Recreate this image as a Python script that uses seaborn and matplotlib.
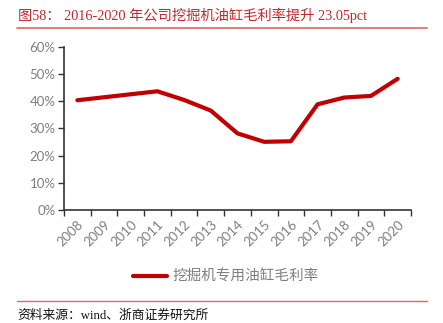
import matplotlib
matplotlib.use("Agg")
import matplotlib.pyplot as plt
import seaborn as sns
import pandas as pd
import numpy as np
from matplotlib.lines import Line2D
from matplotlib.ticker import FixedLocator, PercentFormatter

years = ["2008", "2009", "2010", "2011", "2012", "2013", "2014", "2015",
         "2016", "2017", "2018", "2019", "2020"]
margin = [40.4, 41.5, 42.6, 43.7, 40.5, 36.6, 28.2, 25.1, 25.3, 38.9, 41.4, 42.0, 48.3]
series_name = "挖掘机专用油缸毛利率"
title = "图58： 2016-2020 年公司挖掘机油缸毛利率提升 23.05pct"
source = "资料来源：wind、浙商证券研究所"
yticks = [0, 10, 20, 30, 40, 50, 60]

sns.set_theme(style="white")
plt.rcParams['font.family'] = ['Lato', 'Noto Sans CJK SC', 'DejaVu Sans']

df = pd.DataFrame({"pos": np.arange(len(years)), "val": margin})

fig = plt.figure(figsize=(4.43, 3.23), dpi=100)
ax = fig.add_axes([64/443, 1-210/323, (411-64)/443, (210-47)/323])

red = "#C00000"
gray = "#7f7f7f"
sns.lineplot(data=df, x="pos", y="val", ax=ax, color=red, linewidth=3.0,
             label=series_name, legend=False)

ax.set_xlim(-0.5, len(years) - 0.5)
ax.set_ylim(0, 60)
ax.set_yticks(yticks)
ax.yaxis.set_major_formatter(PercentFormatter(decimals=0))
ax.set_xticks(np.arange(len(years)))
ax.set_xticklabels(years, rotation=45, ha="right", rotation_mode="anchor")
ax.xaxis.set_minor_locator(FixedLocator(np.arange(-0.5, len(years), 1.0)))
ax.tick_params(axis="x", which="major", length=0, labelsize=9.5, labelcolor=gray, pad=6)
ax.tick_params(axis="x", which="minor", length=4, width=1, color="#333333", direction="out", bottom=True)
ax.tick_params(axis="y", which="major", length=4, width=1, color="#333333", direction="out",
               labelsize=9.5, labelcolor=gray, left=True, pad=2)
ax.set_xlabel("")
ax.set_ylabel("")
for s in ["top", "right"]:
    ax.spines[s].set_visible(False)
for s in ["left", "bottom"]:
    ax.spines[s].set_color("#333333")
    ax.spines[s].set_linewidth(1.2)

handle = Line2D([0], [0], color=red, linewidth=3.0)
fig.legend([handle], [series_name], loc="center", bbox_to_anchor=(0.51, 1-277/323),
           frameon=False, handlelength=2.3, handletextpad=0.4,
           prop={"family": ["Noto Sans CJK SC"], "size": 10.5}, labelcolor=gray)

fig.text(18/443, 1-15/323, title, ha="left", va="center", color="#C0282D",
         fontsize=10.3, family=["Liberation Serif", "Noto Sans CJK SC"])
fig.add_artist(Line2D([17/443, 427/443], [1-28/323, 1-28/323], color="#E06666", linewidth=1.2))
fig.add_artist(Line2D([17/443, 427/443], [1-301/323, 1-301/323], color="#E06666", linewidth=1.0))
fig.text(17/443, 1-316/323, source, ha="left", va="center", color="#111111",
         fontsize=9.2, family=["Liberation Serif", "Noto Sans CJK SC"])

fig.savefig("out.png", dpi=100)
